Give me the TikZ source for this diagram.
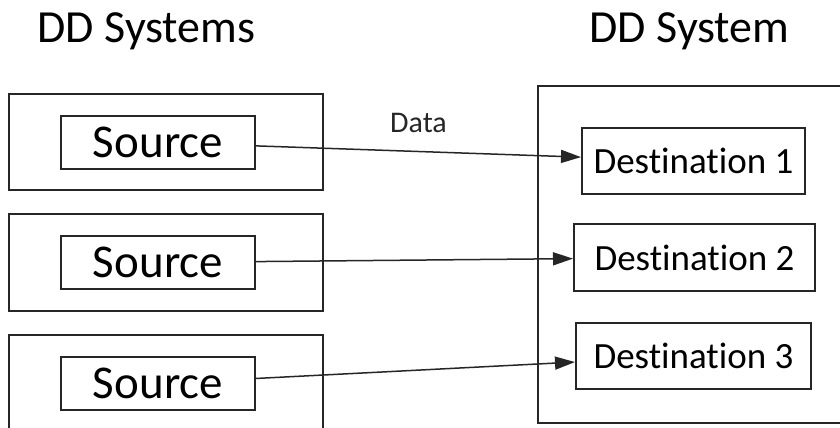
\documentclass[tikz,border=0pt]{standalone}
\usepackage{fontspec}
\setmainfont{Carlito}[Ligatures=CommonOff]
\usepackage{xcolor}
\usepackage{tikz}
\usetikzlibrary{arrows.meta,positioning}
\definecolor{ink}{HTML}{262626}
\tikzset{
  sysbox/.style={
    rectangle, draw=ink, line width=1pt,
    minimum width=#1, inner sep=0pt
  },
  sysbox/.default=157pt,
  srcbox/.style={
    rectangle, draw=ink, line width=1pt,
    minimum width=97pt, minimum height=26.5pt,
    font=\fontsize{23.5}{28}\selectfont, inner sep=0pt
  },
  dstbox/.style={
    rectangle, draw=ink, line width=1pt,
    minimum width=#1, minimum height=33pt,
    font=\fontsize{18.5}{22}\selectfont, inner sep=0pt
  },
  dstbox/.default=112pt,
  title/.style={font=\fontsize{23}{28}\selectfont, inner sep=0pt, anchor=base},
  dataarrow/.style={
    -{Triangle[length=10pt,width=6.5pt]}, line width=0.75pt, color=ink
  },
}

\begin{document}
\begin{tikzpicture}[x=0.5pt,y=-0.5pt]
\useasboundingbox (0,0) rectangle (840,428);
\clip (0,0) rectangle (840,428);
% titles
\node[title] (ttlsrc) at (146.5,42) {DD Systems};
\node[title] (ttldst) at (689.5,42) {DD System};
% source side
\node[sysbox, minimum height=48pt] (sys1) at (166,142) {};
\node[sysbox, minimum height=48.5pt] (sys2) at (166,262.5) {};
\node[sysbox, minimum height=48pt] (sys3) at (166,383) {};
\node[srcbox] (src1) at (158,142.5) {Source};
\node[srcbox] (src2) at (158,262.5) {Source};
\node[srcbox] (src3) at (158,383.5) {Source};
% destination side
\node[sysbox=160pt, minimum height=168.5pt] (dsys) at (698,254.5) {};
\node[dstbox=111.5pt] (dst1) at (693.5,161) {Destination 1};
\node[dstbox=120.5pt, minimum height=33.5pt] (dst2) at (694.5,257.5) {Destination 2};
\node[dstbox=117.5pt] (dst3) at (693.5,356) {Destination 3};
% flows
\draw[dataarrow] (src1) -- (dst1) node[midway, yshift=14.25pt, font=\fontsize{15}{18}\selectfont, inner sep=0pt] (lbl) {Data};
\draw[dataarrow] (src2) -- (dst2);
\draw[dataarrow] (src3) -- (dst3);
\end{tikzpicture}
\end{document}
